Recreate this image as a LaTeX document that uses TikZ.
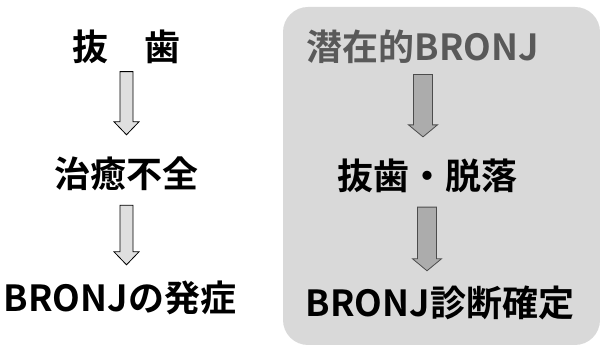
\documentclass[tikz,border=0pt]{standalone}
\usepackage{fontspec}
\newfontfamily\jp{Noto Sans CJK JP Bold}
\usetikzlibrary{calc}
\tikzset{
  lbl/.style={font=\jp\fontsize{36}{40}\selectfont, inner sep=0pt, anchor=center},
  lightarrow/.style={draw=black, line width=0.8pt, fill=gray!25},
  darkarrow/.style={draw=black!70, line width=0.8pt, fill=gray!65},
}
% #1 style, #2 from node, #3 to node, #4 half shaft, #5 half head, #6 head length, #7 top offset, #8 bottom offset
\newcommand{\blockarrow}[8]{%
  \path let \p1=(#2.south), \p2=(#3.north) in
    coordinate (t) at (\x1,\y1-#7) coordinate (b) at (\x1,\y2+#8);
  \draw[#1] ($(t)+(-#4,0)$) -- ($(t)+(#4,0)$) -- ($(b)+(#4,#6)$) -- ($(b)+(#5,#6)$) -- (b)
    -- ($(b)+(-#5,#6)$) -- ($(b)+(-#4,#6)$) -- cycle;}
\begin{document}
\begin{tikzpicture}[x=1pt,y=1pt]
\useasboundingbox (0,0) rectangle (600,347);
\fill[gray!30, rounded corners=25pt] (283,2) rectangle (600,340);
\node[lbl] (a1) at (126.5,300.5) {抜\hspace{1em}歯};
\node[lbl] (a2) at (126.5,173) {治癒不全};
\node[lbl] (a3) at (120,49) {BRONJの発症};
\node[lbl, text=black!65] (b1) at (423,300.5) {潜在的BRONJ};
\node[lbl] (b2) at (427,171) {抜歯・脱落};
\node[lbl] (b3) at (440,44) {BRONJ診断確定};
\blockarrow{lightarrow}{a1}{a2}{6.5}{12.5}{13}{8}{22}
\blockarrow{lightarrow}{a2}{a3}{6.5}{12.5}{13}{14}{16}
\blockarrow{darkarrow}{b1}{b2}{9.5}{14.5}{12}{11}{22}
\blockarrow{darkarrow}{b2}{b3}{9.5}{14.5}{12}{14}{15}
\end{tikzpicture}
\end{document}
